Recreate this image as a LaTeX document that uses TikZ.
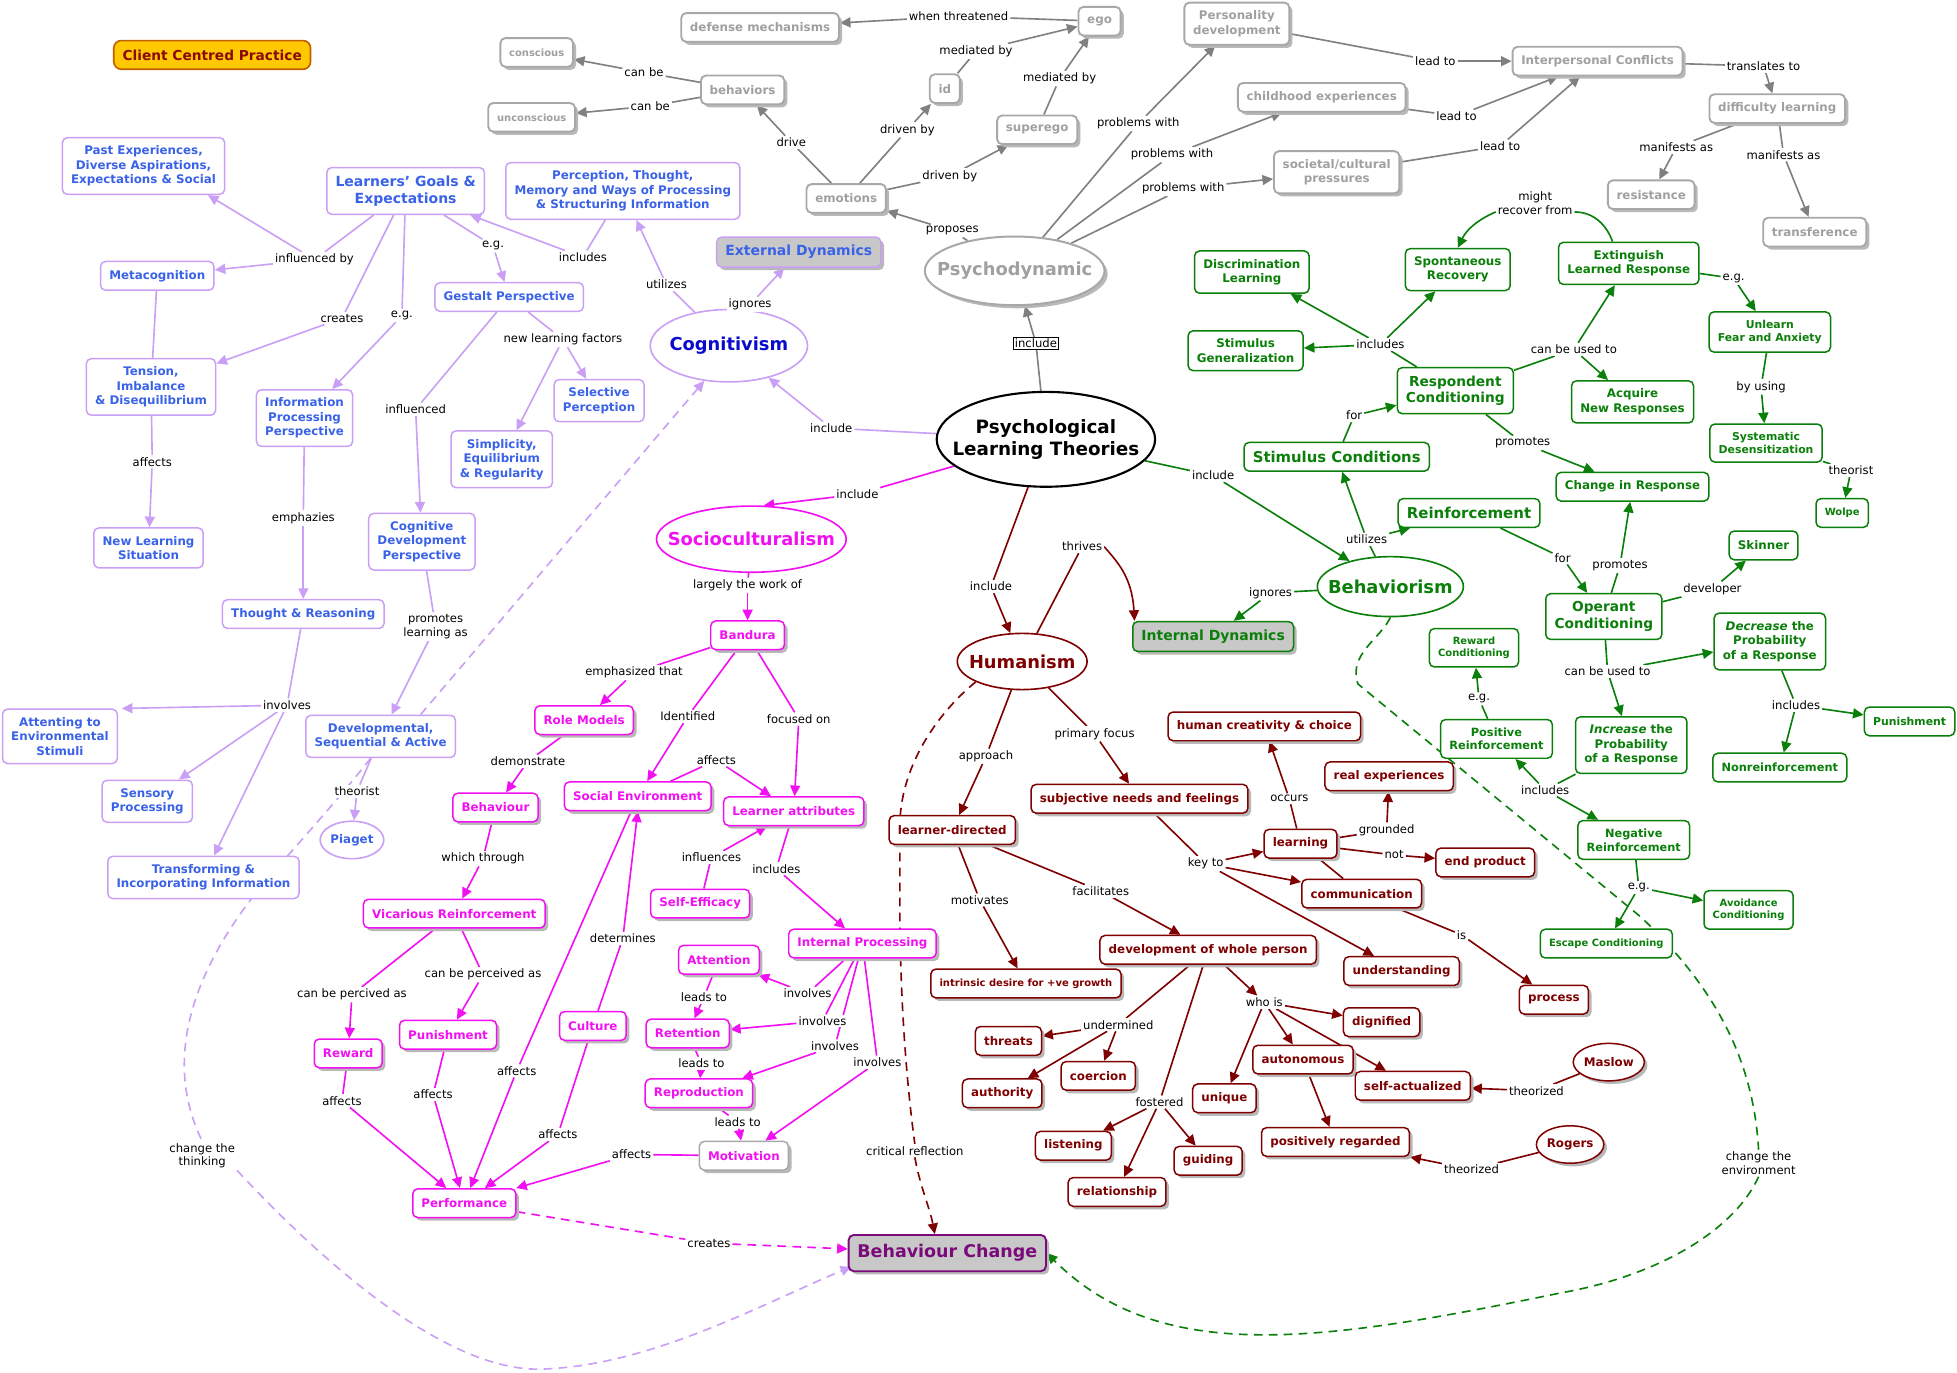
\documentclass[tikz,border=0pt]{standalone}
\usepackage{fontspec}
\setmainfont{DejaVu Sans}
\usetikzlibrary{arrows.meta,shapes.geometric,shadows,calc}
\pgfdeclarelayer{edges}
\pgfdeclarelayer{bgl}
\pgfsetlayers{bgl,edges,main}
\definecolor{lav}{HTML}{C9A0F5}
\definecolor{lblue}{HTML}{3A62E8}
\definecolor{cblue}{HTML}{0A0ACC}
\definecolor{mag}{HTML}{F210F2}
\definecolor{dred}{HTML}{7F0000}
\definecolor{grn}{HTML}{0A7F0A}
\definecolor{gtx}{HTML}{A0A0A0}
\definecolor{gbd}{HTML}{A8A8A8}
\definecolor{gln}{HTML}{808080}
\definecolor{purp}{HTML}{7A0A7A}
\definecolor{gold}{HTML}{FFC800}
\definecolor{goldbd}{HTML}{C06000}
\definecolor{goldtx}{HTML}{8A0A0A}
\definecolor{boxgray}{HTML}{C8C8C8}
\newcommand\labfont{\fontsize{9.3}{11}\selectfont}
\newcommand\myE[4]{\draw[#1] (#2) -- (#3);\draw[#1,ar] (#3) -- (#4);}
\newcommand\myA[3]{\draw[#1,ar] (#2) -- (#3);}
\newcommand\myP[3]{\draw[#1] (#2) -- (#3);}
\tikzset{
 lab/.style={fill=white, inner sep=1.5pt, text=black, align=center, font=\labfont},
 bx/.style={rounded corners=4pt, line width=1.2pt, fill=white, align=center, inner xsep=7pt, inner ysep=6.5pt, minimum height=23pt, font=\bfseries\fontsize{9.5}{11.6}\selectfont},
 sh/.style={drop shadow={shadow xshift=2.5pt,shadow yshift=-2.5pt,fill=black!28,opacity=1}},
 gb/.style={bx,draw=gbd,text=gtx,line width=1.5pt,sh},
 lb/.style={bx,draw=lav,text=lblue},
 mb/.style={bx,draw=mag,text=mag,sh},
 rb/.style={bx,draw=dred,text=dred,sh},
 vb/.style={bx,draw=grn,text=grn},
 ellS/.style={ellipse,line width=1.3pt,fill=white,inner sep=0pt},
 ellT/.style={inner sep=0pt,align=center,font=\bfseries\fontsize{14.3}{17}\selectfont},
 fsm/.style={font=\bfseries\fontsize{8}{10}\selectfont},
 f87/.style={font=\bfseries\fontsize{8.7}{10.8}\selectfont},
 f9/.style={font=\bfseries\fontsize{9.1}{11}\selectfont},
 f11/.style={font=\bfseries\fontsize{11}{13.2}\selectfont},
 fbig/.style={font=\bfseries\fontsize{11.2}{13.6}\selectfont},
 f12/.style={font=\bfseries\fontsize{12}{14}\selectfont},
 ar/.style={-{Triangle[length=8.5pt,width=8pt]}},
 eg/.style={draw=gln,line width=1.3pt},
 el/.style={draw=lav,line width=1.3pt},
 em/.style={draw=mag,line width=1.3pt},
 er/.style={draw=dred,line width=1.3pt},
 ev/.style={draw=grn,line width=1.3pt},
 dsh/.style={dash pattern=on 7pt off 5pt},
}
\begin{document}
\begin{tikzpicture}[x=1pt,y=-1pt]
\begin{pgfonlayer}{bgl}
\fill[white] (0,0) rectangle (1568,1100);
\end{pgfonlayer}
\useasboundingbox (0,0) rectangle (1568,1100);

% ---------- Client centred
\node[bx,draw=goldbd,fill=gold,text=goldtx,font=\bfseries\fontsize{11}{13}\selectfont,line width=1.3pt,rounded corners=6pt] (ccp) at (170,44) {Client Centred Practice};

% ---------- Psychodynamic (gray)
\node[gb,fsm] (cons) at (430,42) {conscious};
\node[gb,fsm] (uncons) at (426,94) {unconscious};
\node[gb] (behav) at (595,72) {behaviors};
\node[gb] (defense) at (609,22) {defense mechanisms};
\node[gb] (ego) at (881,17) {ego};
\node[gb] (id) at (757,71) {id};
\node[gb] (superego) at (831,104) {superego};
\node[gb] (emot) at (678,159) {emotions};
\node[gb] (persdev) at (991,19) {Personality\\development};
\node[gb] (interp) at (1280,49) {Interpersonal Conflicts};
\node[gb] (child) at (1059,78) {childhood experiences};
\node[gb] (societal) at (1071,138) {societal/cultural\\pressures};
\node[gb] (diff) at (1424,87) {difficulty learning};
\node[gb] (resist) at (1323,156) {resistance};
\node[gb] (transf) at (1454,186) {transference};
\node[ellS,draw=gbd,line width=1.6pt,sh,minimum width=144pt,minimum height=55pt] (psycho) at (813,217) {};
\node[ellT,text=gtx] (psychoT) at (psycho) {Psychodynamic};

% ---------- central
\node[ellS,draw=black,line width=1.7pt,minimum width=175pt,minimum height=76pt] (plt) at (838,352) {};
\node[ellT,text=black,font=\bfseries\fontsize{14.7}{18}\selectfont] (pltT) at (plt) {Psychological\\Learning Theories};

% ---------- Cognitivism (lavender)
\node[lb] (past) at (115,133) {Past Experiences,\\Diverse Aspirations,\\Expectations \& Social};
\node[lb,fbig] (lg) at (325,153) {Learners' Goals \&\\Expectations};
\node[lb] (percep) at (499,153) {Perception, Thought,\\Memory and Ways of Processing\\\& Structuring Information};
\node[lb] (meta) at (126,221) {Metacognition};
\node[lb] (gestalt) at (408,238) {Gestalt Perspective};
\node[lb] (tension) at (121,310) {Tension,\\Imbalance\\\& Disequilibrium};
\node[lb] (infop) at (244,335) {Information\\Processing\\Perspective};
\node[lb] (select) at (480,321) {Selective\\Perception};
\node[lb] (simpl) at (402,368) {Simplicity,\\Equilibrium\\\& Regularity};
\node[lb] (cogdev) at (338,434) {Cognitive\\Development\\Perspective};
\node[lb] (newl) at (119,439) {New Learning\\Situation};
\node[lb] (thought) at (243,492) {Thought \& Reasoning};
\node[lb] (attent) at (48,590) {Attenting to\\Environmental\\Stimuli};
\node[lb] (devseq) at (305,590) {Developmental,\\Sequential \& Active};
\node[lb] (sensory) at (118,642) {Sensory\\Processing};
\node[ellS,draw=lav,minimum width=51pt,minimum height=30pt] (piaget) at (282,673) {};
\node[ellT,text=lblue,font=\bfseries\fontsize{9.5}{11}\selectfont] (piagetT) at (piaget) {Piaget};
\node[lb] (transform) at (163,703) {Transforming \&\\Incorporating Information};
\node[lb,fbig,fill=boxgray,sh] (extdyn) at (640,202) {External Dynamics};
\node[ellS,draw=lav,minimum width=126pt,minimum height=58pt] (cog) at (584,277) {};
\node[ellT,text=cblue] (cogT) at (cog) {Cognitivism};

% ---------- Socioculturalism (magenta)
\node[ellS,draw=mag,minimum width=152pt,minimum height=53pt] (socio) at (602,432) {};
\node[ellT,text=mag] (socioT) at (socio) {Socioculturalism};
\node[mb] (bandura) at (599,509) {Bandura};
\node[mb] (rolem) at (468,577) {Role Models};
\node[mb] (socenv) at (511,638) {Social Environment};
\node[mb] (lattr) at (636,650) {Learner attributes};
\node[mb] (behavr) at (397,647) {Behaviour};
\node[mb] (selfeff) at (561,724) {Self-Efficacy};
\node[mb] (intproc) at (691,756) {Internal Processing};
\node[mb] (vicar) at (364,732) {Vicarious Reinforcement};
\node[mb] (attn) at (576,769) {Attention};
\node[mb] (reten) at (551,828) {Retention};
\node[mb] (repro) at (560,876) {Reproduction};
\node[mb,draw=gbd] (motiv) at (596,926) {Motivation};
\node[mb] (culture) at (475,822) {Culture};
\node[mb] (reward) at (279,844) {Reward};
\node[mb] (punish) at (359,829) {Punishment};
\node[mb] (perf) at (372,964) {Performance};
\node[bx,draw=purp,text=purp,fill=boxgray,line width=1.5pt,font=\bfseries\fontsize{14}{16}\selectfont,minimum width=153pt,minimum height=29pt,sh] (bchg) at (759,1004) {Behaviour Change};

% ---------- Humanism (dark red)
\node[ellS,draw=dred,minimum width=104pt,minimum height=45pt] (hum) at (819,530) {};
\node[ellT,text=dred] (humT) at (hum) {Humanism};
\node[rb] (ldir) at (763,665) {learner-directed};
\node[rb] (subj) at (913,640) {subjective needs and feelings};
\node[rb,fsm] (intr) at (822,788) {intrinsic desire for +ve growth};
\node[rb] (devw) at (968,761) {development of whole person};
\node[rb] (creat) at (1013,582) {human creativity \& choice};
\node[rb] (realx) at (1113,622) {real experiences};
\node[rb] (learnn) at (1042,676) {learning};
\node[rb] (endp) at (1190,691) {end product};
\node[rb] (commu) at (1091,716) {communication};
\node[rb] (under) at (1123,778) {understanding};
\node[rb] (proc) at (1245,801) {process};
\node[rb] (threats) at (808,834) {threats};
\node[rb] (coerc) at (880,862) {coercion};
\node[rb] (auth) at (803,876) {authority};
\node[rb] (listen) at (860,918) {listening};
\node[rb] (guid) at (968,930) {guiding};
\node[rb] (relat) at (895,955) {relationship};
\node[rb] (uniq) at (981,880) {unique};
\node[rb] (auton) at (1044,849) {autonomous};
\node[rb] (digni) at (1107,819) {dignified};
\node[rb] (selfa) at (1132,870) {self-actualized};
\node[rb] (posr) at (1070,915) {positively regarded};
\node[ellS,draw=dred,line width=1.2pt,sh,minimum width=57pt,minimum height=30pt] (maslow) at (1289,851) {};
\node[ellT,text=dred,font=\bfseries\fontsize{9.5}{11}\selectfont] (maslowT) at (maslow) {Maslow};
\node[ellS,draw=dred,line width=1.2pt,sh,minimum width=54pt,minimum height=30pt] (rogers) at (1258,917) {};
\node[ellT,text=dred,font=\bfseries\fontsize{9.5}{11}\selectfont] (rogersT) at (rogers) {Rogers};

% ---------- Behaviorism (green)
\node[ellS,draw=grn,minimum width=117pt,minimum height=48pt] (behm) at (1114,470) {};
\node[ellT,text=grn] (behmT) at (behm) {Behaviorism};
\node[bx,draw=grn,fill=boxgray,text=grn,fbig,sh] (intdyn) at (972,510) {Internal Dynamics};
\node[vb,font=\bfseries\fontsize{11.9}{14}\selectfont] (stimc) at (1071,366) {Stimulus Conditions};
\node[vb,f12] (reinf) at (1177,411) {Reinforcement};
\node[vb,f11] (resp) at (1166,313) {Respondent\\Conditioning};
\node[vb] (discr) at (1003,218) {Discrimination\\Learning};
\node[vb] (stimg) at (998,281) {Stimulus\\Generalization};
\node[vb] (spont) at (1168,216) {Spontaneous\\Recovery};
\node[vb] (extin) at (1305,211) {Extinguish\\Learned Response};
\node[vb] (acq) at (1308,322) {Acquire\\New Responses};
\node[vb,f87] (unlearn) at (1418,266) {Unlearn\\Fear and Anxiety};
\node[vb,f87] (sysd) at (1415,355) {Systematic\\Desensitization};
\node[vb,fsm] (wolpe) at (1476,411) {Wolpe};
\node[vb] (chg) at (1308,390) {Change in Response};
\node[vb,f11] (oper) at (1285,494) {Operant\\Conditioning};
\node[vb] (skin) at (1413,437) {Skinner};
\node[vb] (decr) at (1418,514) {\textit{Decrease} the\\Probability\\of a Response};
\node[vb] (incr) at (1307,597) {\textit{Increase} the\\Probability\\of a Response};
\node[vb,f87] (punG) at (1530,578) {Punishment};
\node[vb,f9] (nonr) at (1426,615) {Nonreinforcement};
\node[vb,fsm] (rewc) at (1181,519) {Reward\\Conditioning};
\node[vb,f9] (posit) at (1199,592) {Positive\\Reinforcement};
\node[vb,f9] (negat) at (1309,673) {Negative\\Reinforcement};
\node[vb,fsm] (avoid) at (1401,729) {Avoidance\\Conditioning};
\node[vb,fsm] (escape) at (1287,756) {Escape Conditioning};

% ---------- labels
\node[lab] (lwt) at (768,13) {when threatened};
\node[lab] (lmd1) at (782,41) {mediated by};
\node[lab] (lmd2) at (849,63) {mediated by};
\node[lab] (lcb1) at (516,58) {can be};
\node[lab] (lcb2) at (521,85) {can be};
\node[lab] (ldrv) at (634,114) {drive};
\node[lab] (ldb1) at (727,104) {driven by};
\node[lab] (ldb2) at (761,141) {driven by};
\node[lab] (lprp) at (763,185) {proposes};
\node[lab] (lpw1) at (912,99) {problems with};
\node[lab] (lpw2) at (939,124) {problems with};
\node[lab] (lpw3) at (948,151) {problems with};
\node[lab] (llt1) at (1150,49) {lead to};
\node[lab] (llt2) at (1167,93) {lead to};
\node[lab] (llt3) at (1202,117) {lead to};
\node[lab] (ltrn) at (1413,53) {translates to};
\node[lab] (lma1) at (1343,118) {manifests as};
\node[lab] (lma2) at (1429,124) {manifests as};
\node[lab,draw=black,line width=0.6pt,inner sep=1pt] (linc0) at (830,275) {include};

\node[lab] (linc1) at (666,343) {include};
\node[lab] (luti) at (534,228) {utilizes};
\node[lab] (lign) at (601,244) {ignores};
\node[lab] (linc2) at (467,206) {includes};
\node[lab] (linf) at (252,208) {influenced by};
\node[lab] (lcre) at (274,255) {creates};
\node[lab] (leg1) at (322,253) {e.g.};
\node[lab] (leg2) at (395,197) {e.g.};
\node[lab] (lnlf) at (451,272) {new learning factors};
\node[lab] (linfl) at (333,328) {influenced};
\node[lab] (laff0) at (122,370) {affects};
\node[lab] (lemph) at (243,415) {emphazies};
\node[lab] (lprom) at (349,502) {promotes\\learning as};
\node[lab] (linv0) at (230,565) {involves};
\node[lab] (lthe) at (286,634) {theorist};
\node[lab] (lcht) at (162,926) {change the\\thinking};

\node[lab] (linc3) at (687,396) {include};
\node[lab] (llw) at (599,469) {largely the work of};
\node[lab] (lemt) at (508,539) {emphasized that};
\node[lab] (lidf) at (551,574) {Identified};
\node[lab] (lfoc) at (640,576) {focused on};
\node[lab] (laf1) at (574,609) {affects};
\node[lab] (ldem) at (423,610) {demonstrate};
\node[lab] (linfu) at (570,687) {influences};
\node[lab] (lincs) at (622,696) {includes};
\node[lab] (lwt2) at (387,688) {which through};
\node[lab] (ldet) at (499,752) {determines};
\node[lab] (laf2) at (414,858) {affects};
\node[lab] (liv1) at (647,796) {involves};
\node[lab] (liv2) at (659,818) {involves};
\node[lab] (liv3) at (669,838) {involves};
\node[lab] (liv4) at (703,851) {involves};
\node[lab] (lld1) at (564,799) {leads to};
\node[lab] (lld2) at (562,852) {leads to};
\node[lab] (lld3) at (591,899) {leads to};
\node[lab] (laf3) at (506,925) {affects};
\node[lab] (lcpa) at (282,797) {can be percived as};
\node[lab] (lcpb) at (387,781) {can be perceived as};
\node[lab] (laf4) at (274,882) {affects};
\node[lab] (laf5) at (347,877) {affects};
\node[lab] (laf6) at (447,909) {affects};
\node[lab] (lcrt) at (568,996) {creates};

\node[lab] (linc4) at (794,470) {include};
\node[lab] (lthr) at (867,438) {thrives};
\node[lab] (lign2) at (1018,475) {ignores};
\node[lab] (lapp) at (790,606) {approach};
\node[lab] (lpf) at (877,588) {primary focus};
\node[lab] (lmot) at (785,721) {motivates};
\node[lab] (lfac) at (882,714) {facilitates};
\node[lab] (lkey) at (966,692) {key to};
\node[lab] (locc) at (1033,640) {occurs};
\node[lab] (lgrd) at (1111,665) {grounded};
\node[lab] (lnot) at (1117,685) {not};
\node[lab] (lis) at (1171,749) {is};
\node[lab] (lund) at (896,821) {undermined};
\node[lab] (lfos) at (929,883) {fostered};
\node[lab] (lwho) at (1013,803) {who is};
\node[lab] (lth1) at (1231,874) {theorized};
\node[lab] (lth2) at (1179,937) {theorized};
\node[lab] (lcrf) at (733,922) {critical reflection};

\node[lab] (linc5) at (972,381) {include};
\node[lab] (luti2) at (1095,432) {utilizes};
\node[lab] (lfor1) at (1085,333) {for};
\node[lab] (lincs2) at (1106,276) {includes};
\node[lab] (lcbu1) at (1261,280) {can be used to};
\node[lab] (lmrf) at (1230,163) {might\\recover from};
\node[lab] (leg3) at (1389,223) {e.g.};
\node[lab] (lbyu) at (1411,310) {by using};
\node[lab] (lthe2) at (1483,377) {theorist};
\node[lab] (lpro1) at (1220,355) {promotes};
\node[lab] (lfor2) at (1252,447) {for};
\node[lab] (lpro2) at (1298,453) {promotes};
\node[lab] (ldev) at (1372,472) {developer};
\node[lab] (lcbu2) at (1288,538) {can be used to};
\node[lab] (linc6) at (1439,565) {includes};
\node[lab] (leg4) at (1185,560) {e.g.};
\node[lab] (linc7) at (1238,633) {includes};
\node[lab] (leg5) at (1313,711) {e.g.};
\node[lab] (lcen) at (1409,932) {change the\\environment};

\begin{pgfonlayer}{edges}
% Psychodynamic
\myE{eg}{ego}{lwt}{defense}
\myE{eg}{id}{lmd1}{ego}
\myE{eg}{superego}{lmd2}{ego}
\myE{eg}{behav}{lcb1}{cons}
\myE{eg}{behav}{lcb2}{uncons}
\myE{eg}{emot}{ldrv}{behav}
\myE{eg}{emot}{ldb1}{id}
\myE{eg}{emot}{ldb2}{superego}
\myE{eg}{psycho}{lprp}{emot}
\myE{eg}{psycho}{lpw1}{persdev}
\myE{eg}{psycho}{lpw2}{child}
\myE{eg}{psycho}{lpw3}{societal}
\myE{eg}{persdev}{llt1}{interp}
\myE{eg}{child}{llt2}{interp}
\myE{eg}{societal}{llt3}{interp}
\myE{eg}{interp}{ltrn}{diff}
\myE{eg}{diff}{lma1}{resist}
\myE{eg}{diff}{lma2}{transf}
\myE{eg}{plt}{linc0}{psycho}
% Cognitivism
\myE{el}{plt}{linc1}{cog}
\myE{el}{cog}{luti}{percep}
\myE{el}{cog}{lign}{extdyn}
\myE{el}{percep}{linc2}{lg}
\myP{el}{lg}{linf}
\myA{el}{linf}{$(past.south east)+(-14,0)$}
\myA{el}{linf}{meta}
\myE{el}{lg}{lcre}{tension}
\myE{el}{lg}{leg1}{infop}
\myE{el}{lg}{leg2}{gestalt}
\myP{el}{meta}{tension}
\myE{el}{tension}{laff0}{newl}
\myP{el}{gestalt}{lnlf}
\myA{el}{lnlf}{select}
\myA{el}{lnlf}{simpl}
\myE{el}{gestalt}{linfl}{cogdev}
\myE{el}{infop}{lemph}{thought}
\myE{el}{cogdev}{lprom}{devseq}
\myP{el}{thought}{linv0}
\myA{el}{linv0}{$(attent.north east)+(3,0)$}
\myA{el}{linv0}{sensory}
\myA{el}{linv0}{transform}
\myE{el}{devseq}{lthe}{piaget}
\draw[el,dsh,ar] ($(devseq.north)+(32,0)$) -- (cog.235);
\draw[el,dsh] ($(devseq.south)+(-8,0)$) .. controls (262,652) and (225,690) .. (200,722) .. controls (160,775) and (128,845) .. (lcht.north);
\draw[el,dsh,ar] (lcht.south east) .. controls (255,1008) and (355,1098) .. (432,1097) .. controls (520,1095) and (610,1045) .. (682,1015);
% Socioculturalism
\myE{em}{plt}{linc3}{socio.70}
\myE{em}{socio}{llw}{bandura}
\myE{em}{bandura}{lemt}{rolem}
\myE{em}{bandura}{lidf}{socenv}
\myE{em}{bandura}{lfoc}{lattr}
\myE{em}{socenv}{laf1}{lattr}
\myE{em}{rolem}{ldem}{behavr}
\myE{em}{selfeff}{linfu}{lattr}
\myE{em}{lattr}{lincs}{intproc}
\myE{em}{behavr}{lwt2}{vicar}
\myE{em}{culture}{ldet}{socenv.south}
\myE{em}{socenv}{laf2}{perf}
\myE{em}{intproc}{liv1}{attn}
\myE{em}{intproc}{liv2}{reten}
\myE{em}{intproc}{liv3}{repro}
\myE{em}{intproc}{liv4}{motiv}
\myE{em}{attn}{lld1}{reten}
\myE{em}{reten}{lld2}{repro}
\myE{em}{repro}{lld3}{motiv}
\myE{em}{motiv}{laf3}{perf}
\myE{em}{vicar}{lcpa}{reward}
\myE{em}{vicar}{lcpb}{punish}
\myE{em}{reward}{laf4}{perf}
\myE{em}{punish}{laf5}{perf}
\myE{em}{culture}{laf6}{perf}
\draw[em,dsh] (perf) -- (lcrt);
\draw[em,dsh,ar] (lcrt) -- (bchg);
% Humanism
\myE{er}{plt}{linc4}{hum}
\myP{er}{hum}{lthr}
\draw[er,ar] (lthr.east) .. controls (895,450) and (907,462) .. ($(intdyn.north west)+(2,0)$);
\myE{ev}{behm}{lign2}{intdyn}
\myE{er}{hum}{lapp}{ldir}
\myE{er}{hum}{lpf}{subj}
\myE{er}{ldir}{lmot}{intr}
\myE{er}{ldir}{lfac}{devw}
\myP{er}{subj}{lkey}
\myA{er}{lkey}{learnn}
\myA{er}{lkey}{commu}
\myA{er}{lkey}{under}
\myE{er}{learnn}{locc}{creat}
\myE{er}{learnn}{lgrd}{realx}
\myE{er}{learnn}{lnot}{endp}
\myP{er}{learnn}{commu}
\myE{er}{commu}{lis}{proc}
\myP{er}{devw}{lund}
\myA{er}{lund}{threats}
\myA{er}{lund}{coerc}
\myA{er}{lund}{auth}
\myP{er}{devw}{lfos}
\myA{er}{lfos}{listen}
\myA{er}{lfos}{guid}
\myA{er}{lfos}{relat}
\myA{er}{devw}{lwho}
\myA{er}{lwho}{uniq}
\myA{er}{lwho}{auton}
\myA{er}{lwho}{digni}
\myA{er}{lwho}{selfa}
\myA{er}{auton}{posr}
\myE{er}{maslow}{lth1}{selfa}
\myE{er}{rogers}{lth2}{posr}
\draw[er,dsh] (hum.south west) .. controls (755,568) and (722,610) .. (721,660) -- (721,740) .. controls (722,820) and (728,880) .. (lcrf.north);
\draw[er,dsh,ar] (lcrf.south) .. controls (737,950) and (745,968) .. ($(bchg.north)+(-10,0)$);
% Behaviorism
\myE{ev}{plt}{linc5}{behm}
\myP{ev}{behm}{luti2}
\myA{ev}{luti2}{stimc}
\myA{ev}{luti2}{reinf}
\myE{ev}{stimc}{lfor1}{resp}
\myP{ev}{resp}{lincs2}
\myA{ev}{lincs2}{discr}
\myA{ev}{lincs2}{stimg}
\myA{ev}{lincs2}{spont}
\myP{ev}{resp}{lcbu1}
\myA{ev}{lcbu1}{extin}
\myA{ev}{lcbu1}{acq}
\draw[ev] ($(extin.north)+(-13,0)$) .. controls (1287,180) and (1277,170) .. ($(lmrf.south east)+(0,-4)$);
\draw[ev,ar] ($(lmrf.south west)+(0,-4)$) .. controls (1184,176) and (1175,184) .. (spont.north);
\myE{ev}{extin}{leg3}{unlearn}
\myE{ev}{unlearn}{lbyu}{sysd}
\myE{ev}{sysd}{lthe2}{wolpe}
\myE{ev}{resp}{lpro1}{chg}
\myE{ev}{reinf}{lfor2}{oper}
\myE{ev}{oper}{lpro2}{chg}
\myE{ev}{oper}{ldev}{skin}
\myP{ev}{oper}{lcbu2}
\myA{ev}{lcbu2}{decr}
\myA{ev}{lcbu2}{incr}
\myP{ev}{decr}{linc6}
\myA{ev}{linc6}{punG}
\myA{ev}{linc6}{nonr}
\myP{ev}{incr}{linc7}
\myA{ev}{linc7}{posit}
\myA{ev}{linc7}{negat}
\myE{ev}{posit}{leg4}{rewc}
\myP{ev}{negat}{leg5}
\myA{ev}{leg5}{avoid}
\myA{ev}{leg5}{escape}
\draw[ev,dsh] (behm.south) .. controls (1106,512) and (1080,524) .. (1088,548) -- (1315,735) .. controls (1375,792) and (1405,850) .. (lcen.north);
\draw[ev,dsh,ar] (lcen.south) .. controls (1390,985) and (1330,1022) .. (1250,1036) .. controls (1060,1075) and (930,1095) .. (bchg.east);
\end{pgfonlayer}
\end{tikzpicture}
\end{document}
